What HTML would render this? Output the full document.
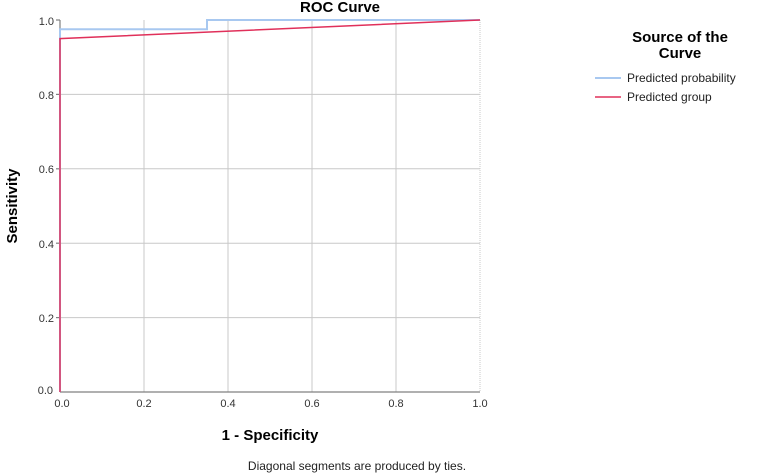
<!DOCTYPE html>
<html><head><meta charset="utf-8"><style>body{margin:0;background:#fff}svg{display:block}</style></head>
<body>
<svg width="761" height="476" xmlns="http://www.w3.org/2000/svg" font-family="Liberation Sans, Arial, sans-serif">
<rect width="761" height="476" fill="#fff"/>
<text x="340" y="12" font-size="15" font-weight="bold" text-anchor="middle" fill="#000">ROC Curve</text>
<g stroke="#c8c8c8" stroke-width="1">
<line x1="144" y1="20" x2="144" y2="392"/><line x1="228" y1="20" x2="228" y2="392"/><line x1="312" y1="20" x2="312" y2="392"/><line x1="396" y1="20" x2="396" y2="392"/><line x1="480" y1="20" x2="480" y2="392" stroke-dasharray="1,1"/>
<line x1="60" y1="94.4" x2="480" y2="94.4"/><line x1="60" y1="168.8" x2="480" y2="168.8"/><line x1="60" y1="243.2" x2="480" y2="243.2"/><line x1="60" y1="317.6" x2="480" y2="317.6"/>
</g>
<g stroke="#808080" stroke-width="1.2">
<line x1="60" y1="20" x2="60" y2="392"/><line x1="60" y1="392" x2="480" y2="392"/>
<line x1="56" y1="20" x2="60" y2="20"/><line x1="56" y1="94.4" x2="60" y2="94.4"/><line x1="56" y1="168.8" x2="60" y2="168.8"/><line x1="56" y1="243.2" x2="60" y2="243.2"/><line x1="56" y1="317.6" x2="60" y2="317.6"/>
</g>
<g font-size="11" fill="#333" text-anchor="end">
<text x="54" y="25">1.0</text><text x="54" y="99">0.8</text><text x="54" y="173">0.6</text><text x="54" y="248">0.4</text><text x="54" y="322">0.2</text><text x="53" y="394">0.0</text>
</g>
<g font-size="11" fill="#333" text-anchor="middle">
<text x="62" y="407">0.0</text><text x="144" y="407">0.2</text><text x="228" y="407">0.4</text><text x="312" y="407">0.6</text><text x="396" y="407">0.8</text><text x="480" y="407">1.0</text>
</g>
<text x="270" y="440" font-size="15" font-weight="bold" text-anchor="middle" fill="#000">1 - Specificity</text>
<text x="17" y="206" font-size="15" font-weight="bold" text-anchor="middle" fill="#000" transform="rotate(-90 17 206)">Sensitivity</text>
<text x="357" y="470" font-size="12" text-anchor="middle" fill="#222">Diagonal segments are produced by ties.</text>
<polyline points="60,392 60,29.3 207,29.3 207,20 480,20" fill="none" stroke="#a8c8f0" stroke-width="2"/>
<polyline points="60,392 60,38.6 480,20" fill="none" stroke="#e0305a" stroke-width="1.5"/>
<text x="680" y="42" font-size="15" font-weight="bold" text-anchor="middle" fill="#000">Source of the</text>
<text x="680" y="58" font-size="15" font-weight="bold" text-anchor="middle" fill="#000">Curve</text>
<line x1="595" y1="78" x2="621" y2="78" stroke="#a8c8f0" stroke-width="2"/>
<text x="627" y="82" font-size="12" fill="#222">Predicted probability</text>
<line x1="595" y1="97" x2="621" y2="97" stroke="#e0305a" stroke-width="1.5"/>
<text x="627" y="101" font-size="12" fill="#222">Predicted group</text>
</svg>
</body></html>
